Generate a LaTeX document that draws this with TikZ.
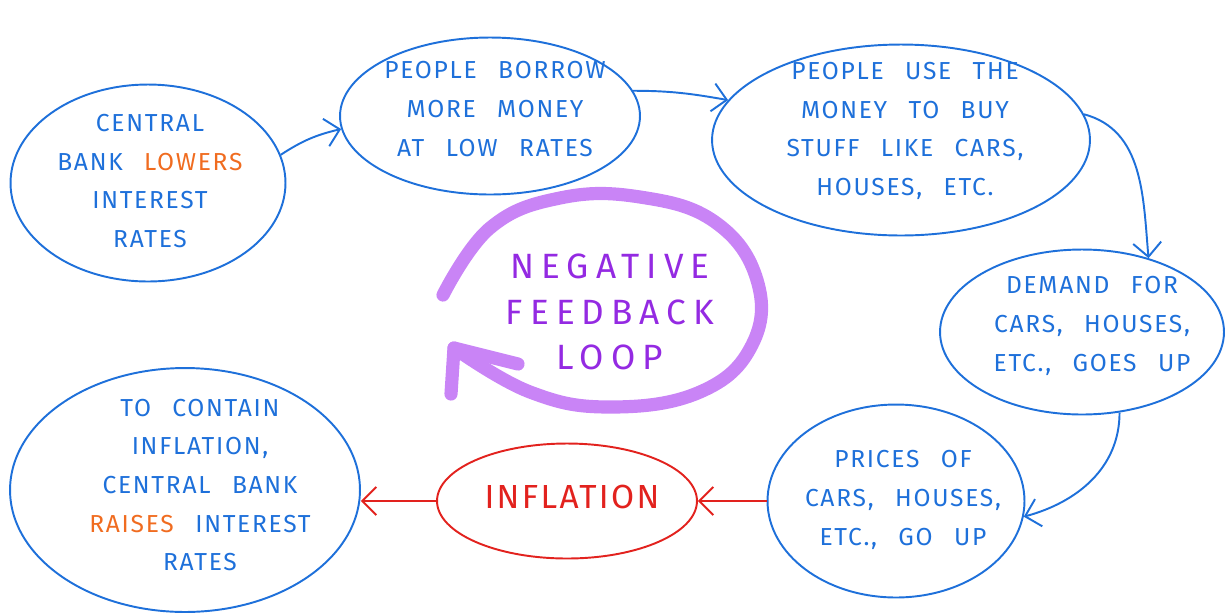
\documentclass[tikz,border=0pt]{standalone}
\usepackage{fontspec}
\setmainfont{Fira Sans}[LetterSpace=7, WordSpace=2.6]
\newfontfamily\loopfont{Fira Sans}[LetterSpace=20]
\usetikzlibrary{shapes.geometric, arrows.meta}

\definecolor{penblue}{RGB}{30,112,218}
\definecolor{penorange}{RGB}{240,108,32}
\definecolor{penred}{RGB}{226,34,30}
\definecolor{penpurple}{RGB}{148,42,226}
\definecolor{looppurple}{RGB}{201,132,246}

\begin{document}
\begin{tikzpicture}[x=0.02cm, y=-0.02cm,
  bubble/.style={ellipse, draw=penblue, line width=1.1pt, inner sep=0pt},
  redbubble/.style={bubble, draw=penred},
  txt/.style={text=penblue, align=center, font=\fontsize{14}{22}\selectfont},
  link/.style={draw=penblue, line width=1.1pt, -{Straight Barb[length=8pt, width=16pt]}},
  redlink/.style={link, draw=penred},
  loopline/.style={draw=looppurple, line width=7.5pt, line cap=round, line join=round}]
  \useasboundingbox (0,0) rectangle (1226,613);

  \node[bubble, minimum width=5.5cm, minimum height=3.94cm]  (cb) at (148,183) {};
  \node[bubble, minimum width=6.0cm, minimum height=3.14cm]  (pb) at (490,116) {};
  \node[bubble, minimum width=7.56cm, minimum height=3.82cm] (um) at (901,140) {};
  \node[bubble, minimum width=5.68cm, minimum height=3.3cm]  (dm) at (1082,332) {};
  \node[bubble, minimum width=5.14cm, minimum height=3.86cm] (pr) at (896,501) {};
  \node[redbubble, minimum width=5.2cm, minimum height=2.3cm] (inf) at (567,501) {};
  \node[bubble, minimum width=7.0cm, minimum height=4.88cm]  (cn) at (185,490) {};

  \node[txt] (cbtxt) at (150,181) {CENTRAL\\BANK \textcolor{penorange}{LOWERS}\\INTEREST\\RATES};
  \node[txt] (pbtxt) at (495,109) {PEOPLE BORROW\\MORE MONEY\\AT LOW RATES};
  \node[txt] (umtxt) at (905,131) {PEOPLE USE THE\\MONEY TO BUY\\STUFF LIKE CARS,\\HOUSES, ETC.};
  \node[txt] (dmtxt) at (1092,326) {DEMAND FOR\\CARS, HOUSES,\\ETC., GOES UP};
  \node[txt] (prtxt) at (903,500) {PRICES OF\\CARS, HOUSES,\\ETC., GO UP};
  \node[txt, text=penred, font=\fontsize{19}{22}\selectfont] (inftxt) at (572,497) {INFLATION};
  \node[txt] (cntxt) at (200,485) {TO CONTAIN\\INFLATION,\\CENTRAL BANK\\\textcolor{penorange}{RAISES} INTEREST\\RATES};

  \draw[link] (cb.12) to[bend left=10] (pb.185);
  \draw[link] (pb.10) to[out=0, in=170] (um.167);
  \draw[link] (um.8) to[out=-15, in=95] (dm.48);
  \draw[link] (dm.295) to[out=-90, in=15] (pr.353);
  \draw[redlink] (pr.west) -- (inf.east);
  \draw[redlink] (inf.west) -- (inf.west -| cn.east);

  % 反馈环
  \coordinate (tip) at (454,348);
  \coordinate (barbA) at (518,364);
  \coordinate (barbB) at (451,394);
  \draw[loopline] plot[smooth, tension=0.7] coordinates
    {(443,295) (490,228) (560,198) (640,197) (715,222) (757,280) (752,345) (700,392) (610,407) (530,392) (tip)};
  \draw[loopline] (barbA) -- (tip) -- (barbB);
  \node[text=penpurple, align=center, font=\loopfont\fontsize{20}{26}\selectfont] (looptxt) at (610,312) {NEGATIVE\\FEEDBACK\\LOOP};
\end{tikzpicture}
\end{document}
